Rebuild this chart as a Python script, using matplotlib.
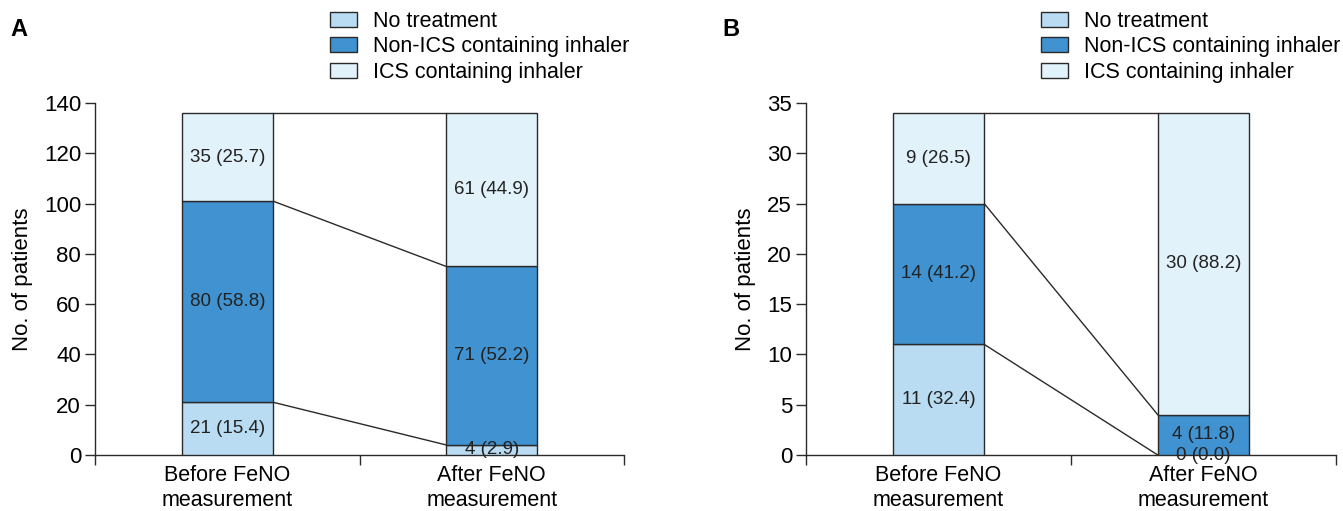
import matplotlib
matplotlib.use("Agg")
import matplotlib.pyplot as plt
import numpy as np

plt.rcParams['font.family'] = ['Liberation Sans', 'DejaVu Sans']

categories = ["Before FeNO\nmeasurement", "After FeNO\nmeasurement"]
series_names = ["No treatment", "Non-ICS containing inhaler", "ICS containing inhaler"]
colors = ["#BADCF3", "#4192D0", "#E1F2FA"]

# Panel A
a_counts = {"No treatment": [21, 4], "Non-ICS containing inhaler": [80, 71], "ICS containing inhaler": [35, 61]}
a_pct = {"No treatment": [15.4, 2.9], "Non-ICS containing inhaler": [58.8, 52.2], "ICS containing inhaler": [25.7, 44.9]}
a_yticks = [0, 20, 40, 60, 80, 100, 120, 140]

# Panel B
b_counts = {"No treatment": [11, 0], "Non-ICS containing inhaler": [14, 4], "ICS containing inhaler": [9, 30]}
b_pct = {"No treatment": [32.4, 0.0], "Non-ICS containing inhaler": [41.2, 11.8], "ICS containing inhaler": [26.5, 88.2]}
b_yticks = [0, 5, 10, 15, 20, 25, 30, 35]

W, H = 1343, 511
fig = plt.figure(figsize=(W / 100, H / 100), dpi=100)

edge = "#2a2a2a"
bw = 0.345


def panel(left_px, right_px, counts, pct, yticks, letter, letter_x):
    ax = fig.add_axes([left_px / W, 56 / H, (right_px - left_px) / W, 352 / H])
    x = np.arange(len(categories))
    bottoms = np.zeros(len(categories))
    tops_list = []
    handles = []
    for name, c in zip(series_names, colors):
        vals = np.array(counts[name], dtype=float)
        h = ax.bar(x, vals, bw, bottom=bottoms, color=c, edgecolor=edge, linewidth=1.0, zorder=3, label=name)
        handles.append(h)
        for xi, v, b, p in zip(x, vals, bottoms, pct[name]):
            ax.text(xi, b + v / 2, f"{int(v)} ({p:.1f})", ha="center", va="center", fontsize=13.5,
                    color="#222222", zorder=5)
        bottoms = bottoms + vals
        tops_list.append(bottoms.copy())
    # connecting lines between segment boundaries
    for tops in tops_list:
        ax.plot([x[0] + bw / 2, x[1] - bw / 2], [tops[0], tops[1]], color=edge, lw=1.0, zorder=2)
    ax.set_xlim(-0.5, 1.5)
    ax.set_ylim(0, yticks[-1])
    ax.set_yticks(yticks)
    ax.set_xticks([-0.5, 0.5, 1.5])
    ax.set_xticklabels([])
    ax.set_xticks(x, minor=True)
    ax.set_xticklabels(categories, minor=True, fontsize=15.5, linespacing=1.25)
    ax.tick_params(axis="x", which="minor", length=0, pad=7)
    ax.tick_params(axis="x", which="major", length=7, width=1, direction="out", color=edge)
    ax.tick_params(axis="y", length=7, width=1, direction="out", labelsize=16, color=edge, pad=3)
    for s in ["top", "right"]:
        ax.spines[s].set_visible(False)
    for s in ["left", "bottom"]:
        ax.spines[s].set_color(edge)
        ax.spines[s].set_linewidth(1.0)
    ax.set_ylabel("No. of patients", fontsize=16, labelpad=8)
    fig.legend(handles=handles, labels=series_names, loc="upper left",
               bbox_to_anchor=((left_px + 235) / W, 1 - 11 / H), frameon=False,
               fontsize=15.5, handlelength=1.25, handleheight=0.7, handletextpad=0.75,
               labelspacing=0.2, borderaxespad=0, borderpad=0)
    fig.text(letter_x / W, 1 - 30 / H, letter, fontsize=17, fontweight="bold", va="center", ha="left")
    return ax


panel(95, 624, a_counts, a_pct, a_yticks, "A", 10)
panel(806, 1336, b_counts, b_pct, b_yticks, "B", 722)

fig.savefig("out.png", dpi=100)
